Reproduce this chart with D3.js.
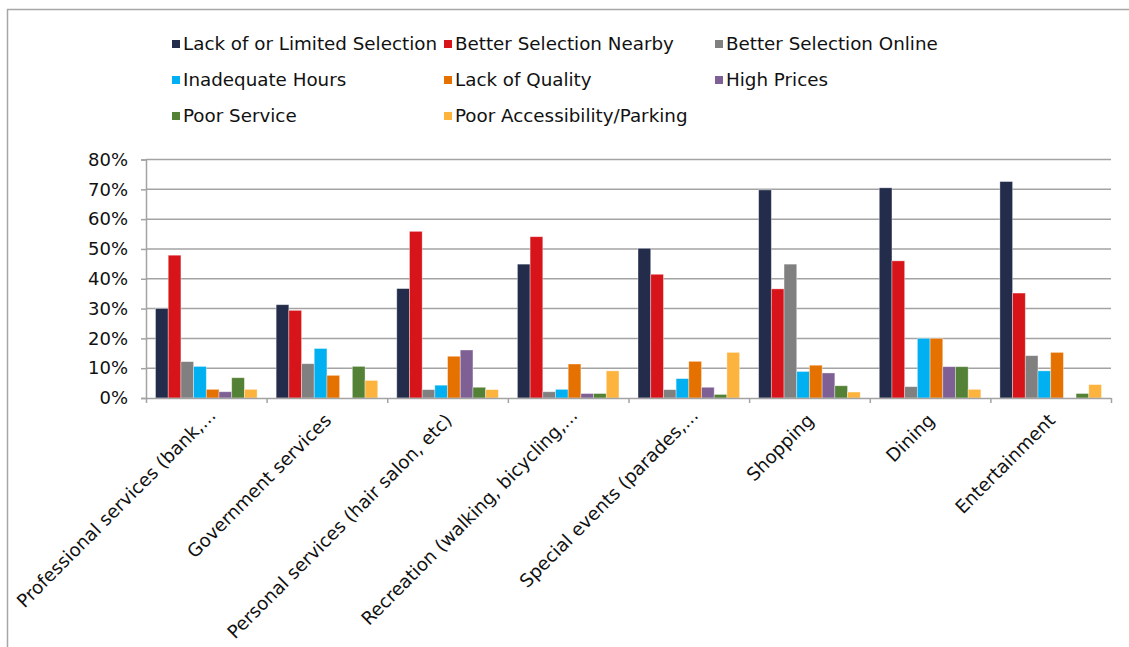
<!DOCTYPE html>
<html>
<head>
<meta charset="utf-8">
<script src="https://cdn.jsdelivr.net/npm/d3@7"></script>
<style>
  html, body { margin: 0; padding: 0; background: #fff; }
  svg { display: block; }
  text { font-family: "DejaVu Sans", sans-serif; fill: #111; }
</style>
</head>
<body>
<svg id="chart" width="1129" height="647"></svg>
<script>
// Categories along the x axis
const categories = [
  "Professional services (bank,...",
  "Government services",
  "Personal services (hair salon, etc)",
  "Recreation (walking, bicycling,...",
  "Special events (parades,...",
  "Shopping",
  "Dining",
  "Entertainment"
];

// Reasons (series) and their colours
const seriesNames = [
  "Lack of or Limited Selection",
  "Better Selection Nearby",
  "Better Selection Online",
  "Inadequate Hours",
  "Lack of Quality",
  "High Prices",
  "Poor Service",
  "Poor Accessibility/Parking"
];
const seriesColors = ["#232d4b", "#d71419", "#808080", "#00b0f0", "#e57200", "#7e6095", "#538135", "#fdb43e"];

// Share of respondents per category, one array per reason
const limitedSelection   = [0.300, 0.313, 0.367, 0.449, 0.502, 0.698, 0.705, 0.726];
const selectionNearby    = [0.479, 0.294, 0.559, 0.541, 0.415, 0.366, 0.460, 0.352];
const selectionOnline    = [0.122, 0.115, 0.028, 0.021, 0.028, 0.449, 0.038, 0.142];
const inadequateHours    = [0.106, 0.166, 0.043, 0.029, 0.065, 0.089, 0.200, 0.091];
const lackOfQuality      = [0.029, 0.076, 0.140, 0.114, 0.123, 0.110, 0.200, 0.153];
const highPrices         = [0.021, 0.000, 0.161, 0.015, 0.036, 0.084, 0.105, 0.000];
const poorService        = [0.068, 0.106, 0.036, 0.015, 0.012, 0.041, 0.105, 0.015];
const poorAccessibility  = [0.029, 0.059, 0.028, 0.091, 0.153, 0.020, 0.029, 0.045];

const seriesValues = [limitedSelection, selectionNearby, selectionOnline, inadequateHours,
                      lackOfQuality, highPrices, poorService, poorAccessibility];

const yTicks = [0, 0.1, 0.2, 0.3, 0.4, 0.5, 0.6, 0.7, 0.8];

const FONT = "'DejaVu Sans', sans-serif";
const svg = d3.select("#chart");

// Chart frame
svg.append("rect")
  .attr("x", 7.5).attr("y", 9.5)
  .attr("width", 1140).attr("height", 660)
  .attr("fill", "#fff")
  .attr("stroke", "#a6a6a6").attr("stroke-width", 1.5);

const plot = { left: 146, right: 1111, top: 159.5, bottom: 398 };

const x0 = d3.scaleBand().domain(categories).range([plot.left, plot.right]).paddingInner(0).paddingOuter(0);
const x1 = d3.scaleBand().domain(seriesNames).range([0, x0.bandwidth()]).paddingInner(0).paddingOuter(0.75);
const y = d3.scaleLinear().domain([0, 0.8]).range([plot.bottom, plot.top]);

// Horizontal gridlines
svg.append("g")
  .selectAll("line")
  .data(yTicks.slice(1))
  .join("line")
  .attr("x1", plot.left).attr("x2", plot.right)
  .attr("y1", d => y(d)).attr("y2", d => y(d))
  .attr("stroke", "#a3a3a3").attr("stroke-width", 1.5);

// Bars
const rows = categories.map((c, i) => ({ category: c, values: seriesNames.map((s, k) => ({ series: s, value: seriesValues[k][i], k })) }));

svg.append("g")
  .selectAll("g")
  .data(rows)
  .join("g")
  .attr("transform", d => `translate(${x0(d.category)},0)`)
  .selectAll("rect")
  .data(d => d.values)
  .join("rect")
  .attr("x", d => x1(d.series))
  .attr("width", x1.bandwidth())
  .attr("y", d => y(d.value))
  .attr("height", d => y(0) - y(d.value))
  .attr("fill", d => seriesColors[d.k])
  .attr("stroke", "rgba(255,255,255,0.45)")
  .attr("stroke-width", 0.8);

// Y axis
const yAxis = svg.append("g")
  .attr("transform", `translate(${plot.left},0)`)
  .call(d3.axisLeft(y).tickValues(yTicks).tickFormat(d3.format(".0%")).tickSize(5).tickPadding(13));
yAxis.select(".domain").attr("stroke", "#a3a3a3").attr("stroke-width", 1.5);
yAxis.selectAll(".tick line").attr("stroke", "#a3a3a3").attr("stroke-width", 1.5);
yAxis.selectAll(".tick text").style("font-family", FONT).style("font-size", "18px").attr("fill", "#111");

// X axis: ticks at category boundaries
const xEdges = d3.scaleLinear().domain([0, categories.length]).range([plot.left, plot.right]);
const xAxis = svg.append("g")
  .attr("transform", `translate(0,${plot.bottom})`)
  .call(d3.axisBottom(xEdges).tickValues(d3.range(categories.length + 1)).tickFormat("").tickSize(5).tickSizeOuter(0));
xAxis.select(".domain").attr("stroke", "#a3a3a3").attr("stroke-width", 1.5);
xAxis.selectAll(".tick line").attr("stroke", "#a3a3a3").attr("stroke-width", 1.5);

// Rotated category labels; truncated names hang a little further out
svg.append("g")
  .selectAll("text")
  .data(categories)
  .join("text")
  .attr("transform", d => `translate(${x0(d) + x0.bandwidth() / 2 + 1},${plot.bottom + 19}) rotate(-45)`)
  .attr("text-anchor", "end")
  .attr("dx", d => d.endsWith("...") ? 7 : 0)
  .attr("dy", "0.35em")
  .style("font-size", "18.3px")
  .text(d => d);

// Legend
const legendCols = [172, 444, 715];
const legendRows = [44, 80, 116];
const legend = svg.append("g")
  .selectAll("g")
  .data(seriesNames)
  .join("g")
  .attr("transform", (d, i) => `translate(${legendCols[i % 3]},${legendRows[Math.floor(i / 3)]})`);
legend.append("rect")
  .attr("x", 0).attr("y", -4).attr("width", 8).attr("height", 8)
  .attr("fill", (d, i) => seriesColors[i]);
legend.append("text")
  .attr("x", 11).attr("dy", "0.35em")
  .style("font-size", "18.3px")
  .text(d => d);
</script>
</body>
</html>
